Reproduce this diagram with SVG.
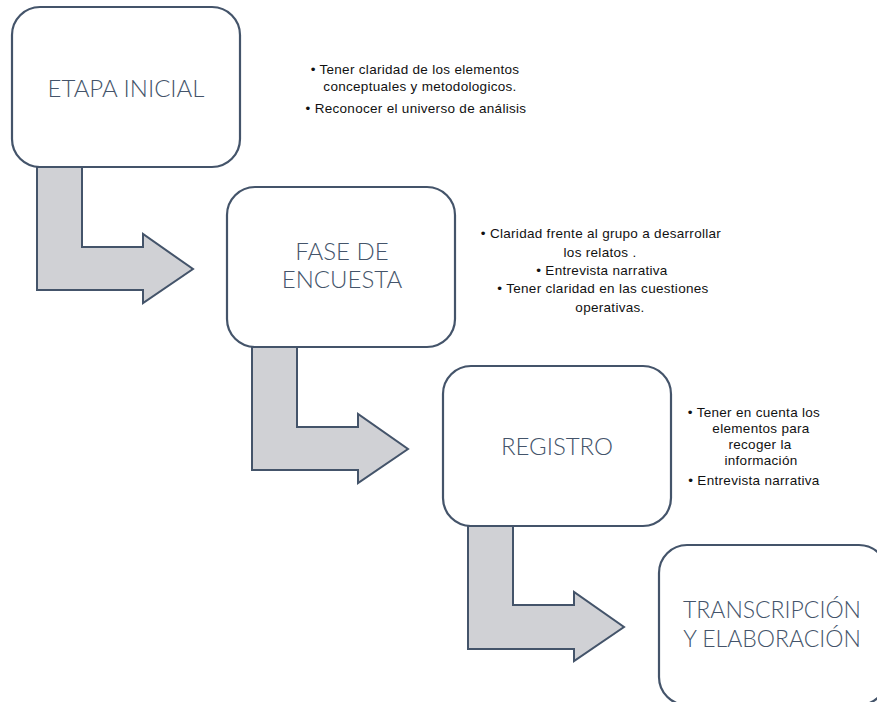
<svg xmlns="http://www.w3.org/2000/svg" width="877" height="702" viewBox="0 0 877 702">
<style>
.box{fill:#ffffff;stroke:#44546a;stroke-width:2.2}
.arr{fill:#d0d1d5;stroke:#44546a;stroke-width:2;stroke-linejoin:miter}
.title{font-family:Lato,"Open Sans",sans-serif;font-weight:300;font-size:24px;fill:#44546a;text-anchor:middle}
.bul{font-family:"Liberation Sans",Arial,sans-serif;font-size:13.5px;letter-spacing:0.3px;fill:#111111;text-anchor:middle}
</style>
<rect width="877" height="702" fill="#ffffff"/>
<g id="connectors">
<path class="arr" d="M37,167 L82,167 L82,247 L143,247 L143,234 L193,269 L143,303 L143,290 L37,290 Z"/>
<path class="arr" d="M252,347 L297,347 L297,427 L358,427 L358,414 L408,449 L358,483 L358,470 L252,470 Z"/>
<path class="arr" d="M468,526 L513,526 L513,605 L574,605 L574,592 L624,627 L574,661 L574,649 L468,649 Z"/>
</g>
<g id="node1">
<rect class="box" x="12" y="7" width="228" height="160" rx="28"/>
<text class="title" x="126" y="97">ETAPA INICIAL</text>
</g>
<g id="notes1">
<text class="bul"><tspan x="415" y="74">• Tener claridad de los elementos</tspan><tspan x="420" y="91">conceptuales y metodologicos.</tspan></text>
<text class="bul" x="416" y="113">• Reconocer el universo de análisis</text>
</g>
<g id="node2">
<rect class="box" x="227" y="187" width="228" height="160" rx="28"/>
<text class="title" x="342" y="260">FASE DE</text>
<text class="title" x="342" y="288">ENCUESTA</text>
</g>
<g id="notes2">
<text class="bul"><tspan x="601" y="238">• Claridad frente al grupo a desarrollar</tspan><tspan x="600" y="257">los relatos .</tspan></text>
<text class="bul" x="602" y="275">• Entrevista narrativa</text>
<text class="bul"><tspan x="603" y="293">• Tener claridad en las cuestiones</tspan><tspan x="610" y="312">operativas.</tspan></text>
</g>
<g id="node3">
<rect class="box" x="443" y="366" width="228" height="160" rx="28"/>
<text class="title" x="557" y="455">REGISTRO</text>
</g>
<g id="notes3">
<text class="bul"><tspan x="754" y="417">• Tener en cuenta los</tspan><tspan x="761" y="433">elementos para</tspan><tspan x="760" y="449">recoger la</tspan><tspan x="761" y="465">información</tspan></text>
<text class="bul" x="754" y="485">• Entrevista narrativa</text>
</g>
<g id="node4">
<rect class="box" x="659" y="545" width="228" height="160" rx="28"/>
<text class="title" x="772" y="618" style="font-size:23px">TRANSCRIPCIÓN</text>
<text class="title" x="772" y="647" style="font-size:23px">Y ELABORACIÓN</text>
</g>
</svg>
